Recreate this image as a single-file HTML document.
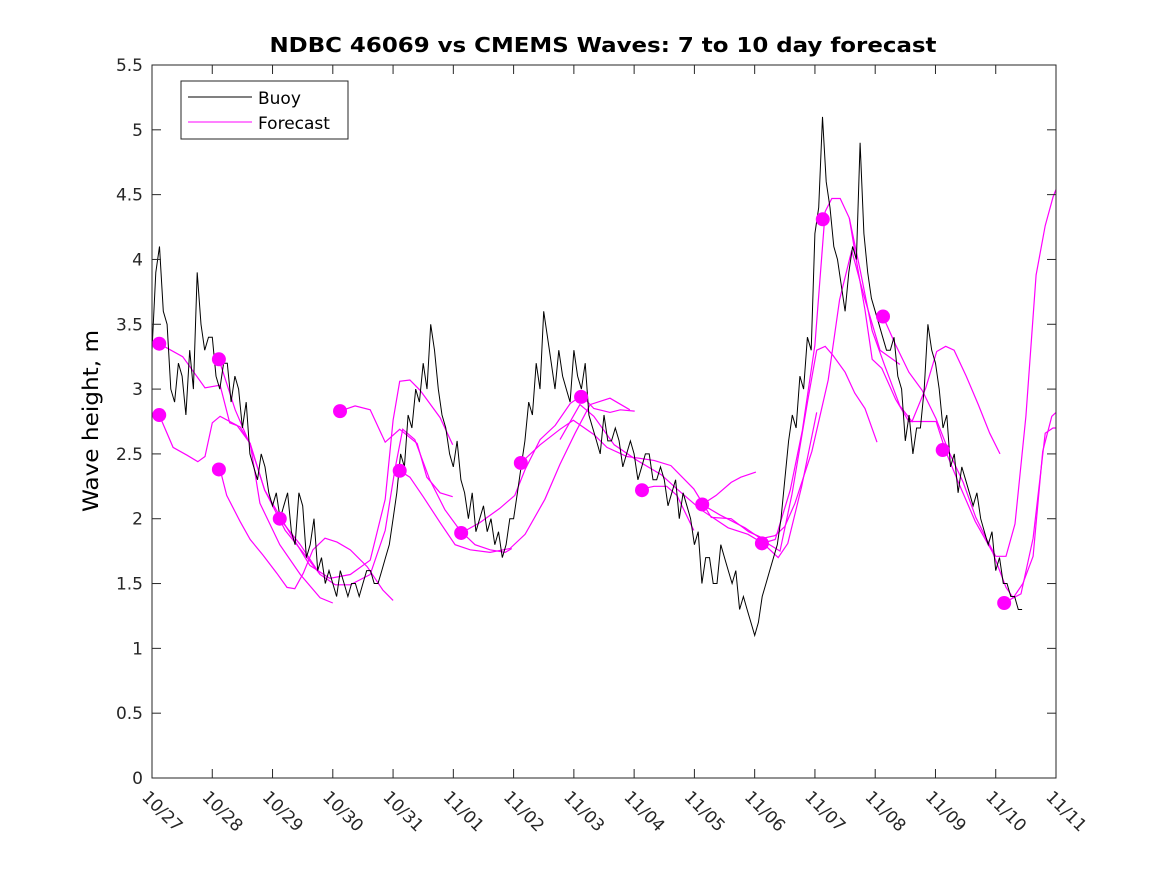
<!DOCTYPE html>
<html><head><meta charset="utf-8"><style>
body{margin:0;background:#fff}
svg{display:block;font-family:"DejaVu Sans","Liberation Sans",sans-serif}
</style></head><body>
<svg id="chart" width="1167" height="875" viewBox="0 0 1167 875">
<rect width="1167" height="875" fill="#fff"/>
<text x="603" y="52" text-anchor="middle" font-size="20" font-weight="bold" textLength="667" lengthAdjust="spacingAndGlyphs">NDBC 46069 vs CMEMS Waves: 7 to 10 day forecast</text>
<text transform="translate(98,421) rotate(-90)" text-anchor="middle" font-size="21" textLength="182" lengthAdjust="spacingAndGlyphs">Wave height, m</text>
<defs><clipPath id="pc"><rect x="152" y="65" width="904" height="713"/></clipPath></defs>
<g id="series" clip-path="url(#pc)"></g>
<g id="dots"></g>
<rect x="152" y="65" width="904" height="713" fill="none" stroke="#262626" stroke-width="1"/>
<g id="axes"></g>
<g>
<rect x="181" y="81" width="167" height="58" fill="#fff" stroke="#262626"/>
<line x1="188" y1="97" x2="252" y2="97" stroke="#000"/>
<text x="258" y="104" font-size="17">Buoy</text>
<line x1="188" y1="122" x2="252" y2="122" stroke="#f0f"/>
<text x="258" y="129" font-size="17">Forecast</text>
</g>
</svg>
<script>
const xTickLabels=["10/27","10/28","10/29","10/30","10/31","11/01","11/02","11/03","11/04","11/05","11/06","11/07","11/08","11/09","11/10","11/11"];
const yTickValues=[0,0.5,1,1.5,2,2.5,3,3.5,4,4.5,5,5.5];
const buoyStep=0.0625;
const buoyValues=[3.3,3.9,4.1,3.6,3.5,3.0,2.9,3.2,3.1,2.8,3.3,3.0,3.9,3.5,3.3,3.4,
3.4,3.1,3.0,3.2,3.2,2.9,3.1,3.0,2.7,2.9,2.5,2.4,2.3,2.5,2.4,2.2,
2.1,2.2,2.0,2.1,2.2,1.9,1.8,2.2,2.1,1.7,1.8,2.0,1.6,1.7,1.5,1.6,
1.5,1.4,1.6,1.5,1.4,1.5,1.5,1.4,1.5,1.6,1.6,1.5,1.5,1.6,1.7,1.8,
2.0,2.2,2.5,2.4,2.8,2.7,3.0,2.9,3.2,3.0,3.5,3.3,3.0,2.8,2.7,2.5,
2.4,2.6,2.3,2.2,2.0,2.2,1.9,2.0,2.1,1.9,2.0,1.8,1.9,1.7,1.8,2.0,
2.0,2.2,2.4,2.6,2.9,2.8,3.2,3.0,3.6,3.4,3.2,3.0,3.3,3.1,3.0,2.9,
3.3,3.1,3.0,3.2,2.8,2.7,2.6,2.5,2.8,2.6,2.6,2.7,2.6,2.4,2.5,2.6,
2.5,2.3,2.4,2.5,2.5,2.3,2.3,2.4,2.3,2.1,2.2,2.3,2.0,2.2,2.1,2.0,
1.8,1.9,1.5,1.7,1.7,1.5,1.5,1.8,1.7,1.6,1.5,1.6,1.3,1.4,1.3,1.2,
1.1,1.2,1.4,1.5,1.6,1.7,1.8,2.0,2.3,2.6,2.8,2.7,3.1,3.0,3.4,3.3,
4.2,4.4,5.1,4.6,4.4,4.1,4.0,3.8,3.6,3.9,4.1,4.0,4.9,4.2,3.9,3.7,
3.6,3.5,3.4,3.3,3.3,3.4,3.1,3.0,2.6,2.8,2.5,2.7,2.7,3.0,3.5,3.3,
3.2,3.0,2.7,2.8,2.4,2.5,2.2,2.4,2.3,2.2,2.1,2.2,2.0,1.9,1.8,1.9,
1.6,1.7,1.5,1.5,1.4,1.4,1.3,1.3];
const f1Days=[0.12,0.51,0.88,1.13,1.29,1.46,1.63,1.79,2.12,2.46,2.79,3.00];
const f1Vals=[3.35,3.25,3.01,3.03,2.74,2.71,2.58,2.12,1.80,1.57,1.39,1.35];
const f2Days=[0.12,0.35,0.58,0.76,0.88,1.00,1.13,1.41,1.63,1.87,2.21,2.54,2.79];
const f2Vals=[2.80,2.55,2.49,2.44,2.48,2.74,2.79,2.72,2.58,2.22,1.91,1.72,1.57];
const f3Days=[1.13,1.24,1.46,1.63,1.84,2.07,2.24,2.37,2.51,2.67,2.87,3.07,3.29,3.57,3.83,4.00];
const f3Vals=[2.38,2.18,1.98,1.84,1.72,1.58,1.47,1.46,1.58,1.76,1.85,1.82,1.76,1.63,1.45,1.37];
const f4Days=[1.11,1.38,1.63,1.87,2.21,2.62,2.95,3.29,3.62,3.87,4.00,4.11,4.28,4.45,4.78,4.99];
const f4Vals=[3.23,2.84,2.57,2.22,1.95,1.64,1.54,1.57,1.68,2.15,2.76,3.06,3.07,2.99,2.78,2.57];
const f5Days=[2.12,2.46,2.79,3.04,3.29,3.62,3.87,4.03,4.16,4.36,4.61,4.86,5.11,5.36,5.61,5.86,5.97];
const f5Vals=[2.00,1.80,1.57,1.49,1.49,1.57,1.91,2.38,2.69,2.61,2.30,2.07,1.91,1.80,1.76,1.74,1.77];
const f6Days=[3.12,3.37,3.62,3.87,4.11,4.40,4.56,4.78,4.99];
const f6Vals=[2.83,2.87,2.84,2.59,2.69,2.58,2.32,2.20,2.17];
const f7Days=[4.11,4.28,4.50,4.78,5.03,5.28,5.61,5.94,6.19,6.52,6.77,7.02,7.27,7.60,7.93];
const f7Vals=[2.37,2.32,2.17,1.97,1.80,1.76,1.74,1.77,1.88,2.15,2.42,2.66,2.88,2.93,2.84];
const f8Days=[5.13,5.44,5.77,6.02,6.19,6.44,6.69,6.94,7.13,7.33,7.60,7.77,8.01];
const f8Vals=[1.89,1.97,2.08,2.18,2.38,2.61,2.72,2.89,2.95,2.85,2.82,2.84,2.83];
const f9Days=[6.12,6.44,6.77,6.99,7.33,7.55,7.88,8.33,8.61,8.99,9.28,9.61,9.90,10.14,10.34,10.50,10.67,10.95,11.22,11.41,11.61,11.83,12.08,12.41];
const f9Vals=[2.43,2.57,2.69,2.76,2.65,2.55,2.48,2.45,2.41,2.23,2.01,2.00,1.90,1.85,1.87,1.94,2.12,2.52,3.07,3.69,4.07,3.69,3.30,3.19];
const f10Days=[9.13,9.36,9.61,9.77,10.02];
const f10Vals=[2.11,2.18,2.28,2.32,2.36];
const f11Days=[8.13,8.33,8.54,8.71,8.99];
const f11Vals=[2.23,2.25,2.25,2.18,1.91];
const f12Days=[6.77,7.10,7.33,7.67,8.05,8.45,8.71,9.11,9.56,9.89,10.14,10.39,10.55,10.78,11.03];
const f12Vals=[2.61,2.88,2.79,2.57,2.45,2.34,2.23,2.07,1.93,1.88,1.81,1.70,1.81,2.25,2.82];
const f13Days=[10.12,10.34,10.59,10.79,11.00,11.17,11.28,11.42,11.57,11.67,11.83,11.95,12.11,12.34,12.56,13.01,13.17,13.38,13.66,13.95,14.17,14.29,14.45,14.62,14.78,14.93,15.00];
const f13Vals=[1.81,1.84,2.22,2.68,3.34,4.37,4.47,4.47,4.32,4.04,3.61,3.23,3.16,2.92,2.75,2.75,2.52,2.28,1.98,1.74,1.47,1.39,1.50,1.71,2.52,2.79,2.82];
const f14Days=[9.13,9.42,9.84,10.25,10.42,10.62,10.88,11.03,11.17,11.30,11.50,11.66,11.83,12.03];
const f14Vals=[2.11,2.03,1.93,1.80,1.75,2.19,2.91,3.30,3.33,3.26,3.13,2.97,2.85,2.59];
const f15Days=[12.13,12.34,12.56,12.78,13.01,13.22,13.46,13.67,13.84,14.00,14.17,14.32,14.50,14.67,14.82,14.95,15.00];
const f15Vals=[3.56,3.34,3.13,2.99,2.77,2.52,2.28,2.01,1.85,1.71,1.71,1.96,2.79,3.88,4.26,4.48,4.54];
const f16Days=[11.57,11.75,11.95,12.16,12.41,12.61,12.84,13.02,13.17,13.31,13.51,13.71,13.90,14.07];
const f16Vals=[4.32,3.92,3.45,3.18,2.87,2.75,3.01,3.29,3.33,3.30,3.10,2.88,2.66,2.50];
const f17Days=[14.14,14.29,14.42,14.62,14.82,14.95,15.00];
const f17Vals=[1.35,1.39,1.42,1.85,2.66,2.70,2.70];
const dotDays=[0.12,0.12,1.11,1.11,2.12,3.12,4.11,5.13,6.12,7.12,8.13,9.13,10.12,11.13,12.13,13.12,14.14];
const dotVals=[3.35,2.80,3.23,2.38,2.00,2.83,2.37,1.89,2.43,2.94,2.22,2.11,1.81,4.31,3.56,2.53,1.35];

const NS="http://www.w3.org/2000/svg";
const X0=152,X1=1056,Y0=778,Y1=65,DMAX=15,VMAX=5.5;
function xs(d){return X0+(X1-X0)*d/DMAX;}
function ys(v){return Y0-(Y0-Y1)*v/VMAX;}
function mk(tag,attrs,parent){const e=document.createElementNS(NS,tag);for(const k in attrs)e.setAttribute(k,attrs[k]);parent.appendChild(e);return e;}
const axes=document.getElementById('axes'),series=document.getElementById('series'),dots=document.getElementById('dots');

yTickValues.forEach(v=>{
  const y=ys(v);
  let t=mk('line',{x1:X0,x2:X0+9,y1:y,y2:y,stroke:'#262626'},axes);
  
  
  t=mk('line',{x1:X1-9,x2:X1,y1:y,y2:y,stroke:'#262626'},axes);
  
  
  const lb=mk('text',{x:X0-9,y:y+6,'text-anchor':'end','font-size':17,fill:'#262626'},axes);
  lb.textContent=String(v);
  
  
});
xTickLabels.forEach((s,i)=>{
  const x=xs(i);
  let t=mk('line',{x1:x,x2:x,y1:Y0,y2:Y0-9,stroke:'#262626'},axes);
  
  
  t=mk('line',{x1:x,x2:x,y1:Y1,y2:Y1+9,stroke:'#262626'},axes);
  
  
  const lb=mk('text',{transform:`translate(${x-11},${Y0+20}) rotate(45)`,'font-size':17,fill:'#262626'},axes);
  lb.textContent=s;
  
  
});

const fDays=[f1Days,f2Days,f3Days,f4Days,f5Days,f6Days,f7Days,f8Days,f9Days,f10Days,f11Days,f12Days,f13Days,f14Days,f15Days,f16Days,f17Days];
const fVals=[f1Vals,f2Vals,f3Vals,f4Vals,f5Vals,f6Vals,f7Vals,f8Vals,f9Vals,f10Vals,f11Vals,f12Vals,f13Vals,f14Vals,f15Vals,f16Vals,f17Vals];
fDays.forEach((ds,k)=>{
  const pts=ds.map((d,i)=>xs(d).toFixed(1)+','+ys(fVals[k][i]).toFixed(1)).join(' ');
  const p=mk('polyline',{points:pts,fill:'none',stroke:'#f0f','stroke-width':1.2},series);
  
  
});
const bpts=buoyValues.map((v,i)=>xs(i*buoyStep).toFixed(1)+','+ys(v).toFixed(1)).join(' ');
const bl=mk('polyline',{points:bpts,fill:'none',stroke:'#000','stroke-width':1},series);


dotDays.forEach((d,i)=>{
  const c=mk('circle',{cx:xs(d),cy:ys(dotVals[i]),r:7,fill:'#f0f'},dots);
  
  
});
</script>
</body></html>
